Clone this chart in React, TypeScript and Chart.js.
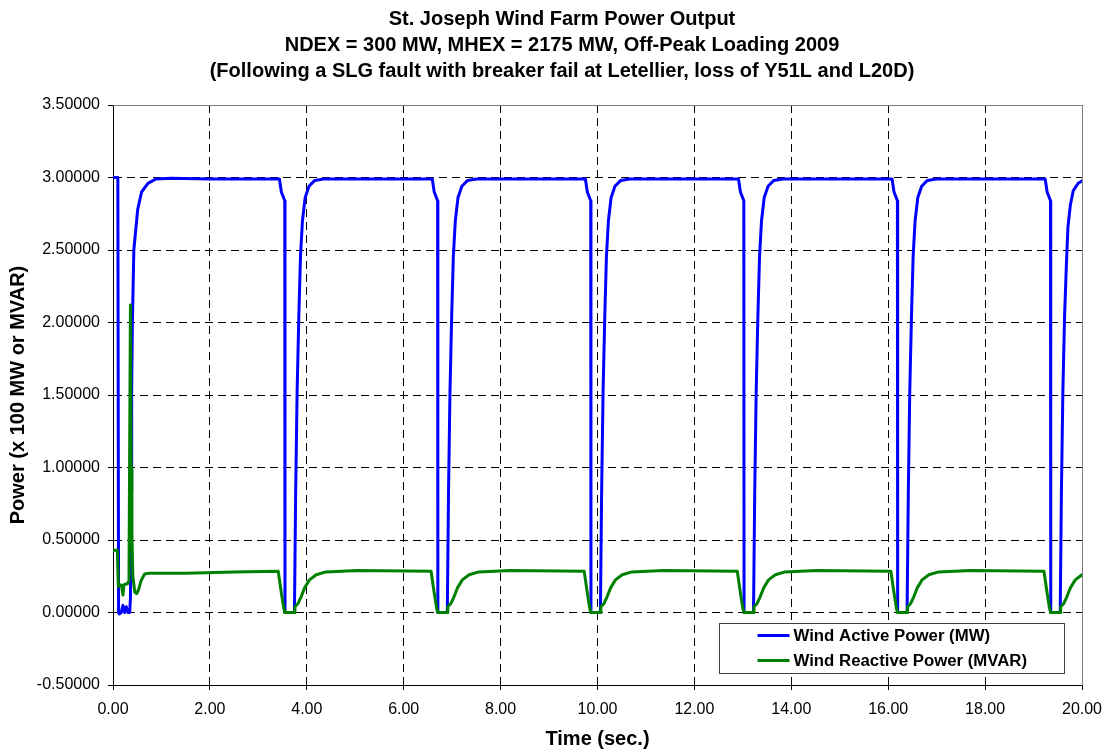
import React, { useEffect, useRef } from 'react';
import { Chart, registerables } from 'chart.js';

Chart.register(...registerables);

const FONT = '"Liberation Sans", Arial, Helvetica, sans-serif';

const titleLines = [
  'St. Joseph Wind Farm Power Output',
  'NDEX = 300 MW, MHEX = 2175 MW, Off-Peak Loading 2009',
  '(Following a SLG fault with breaker fail at Letellier, loss of Y51L and L20D)',
];
const xAxisTitle = 'Time (sec.)';
const yAxisTitle = 'Power (x 100 MW or MVAR)';
const seriesLabels = ['Wind Active Power (MW)', 'Wind Reactive Power (MVAR)'];
const seriesColors = ['#0000FF', '#008000'];

// Wind active power (x 100 MW)
const activeTime = [
  0, 0.10, 0.115, 0.13, 0.17, 0.205, 0.24, 0.275, 0.31, 0.345, 0.36, 0.375, 0.385, 0.40, 0.43, 0.51, 0.59, 0.72, 0.89, 1.20, 2.00, 3.00,
  3.435, 3.475, 3.545, 3.55, 3.745, 3.77, 3.80, 3.835, 3.87, 3.91, 3.965, 4.045, 4.165, 4.345, 5.40,
  6.59, 6.63, 6.70, 6.705, 6.90, 6.925, 6.955, 6.99, 7.025, 7.065, 7.12, 7.20, 7.32, 7.50, 8.60,
  9.75, 9.79, 9.86, 9.865, 10.06, 10.085, 10.115, 10.15, 10.185, 10.225, 10.28, 10.36, 10.48, 10.66, 11.80,
  12.91, 12.95, 13.02, 13.025, 13.22, 13.245, 13.275, 13.31, 13.345, 13.385, 13.44, 13.52, 13.64, 13.82, 14.90,
  16.08, 16.12, 16.19, 16.195, 16.39, 16.415, 16.445, 16.48, 16.515, 16.555, 16.61, 16.69, 16.81, 16.99, 18.10,
  19.24, 19.28, 19.35, 19.355, 19.55, 19.575, 19.605, 19.64, 19.68, 19.71, 19.76, 19.82, 19.92, 20.0,
];
const activePower = [
  3.0, 3.0, 0.0, -0.01, 0.0, 0.05, 0.0, 0.04, 0.0, 0.0, 0.10, 0.83, 1.52, 2.00, 2.50, 2.78, 2.90, 2.96, 2.99, 2.995, 2.99, 2.99,
  2.99, 2.90, 2.84, 0.0, 0.0, 0.83, 1.52, 2.04, 2.46, 2.70, 2.86, 2.94, 2.98, 2.99, 2.99,
  2.99, 2.90, 2.84, 0.0, 0.0, 0.83, 1.52, 2.04, 2.46, 2.70, 2.86, 2.94, 2.98, 2.99, 2.99,
  2.99, 2.90, 2.84, 0.0, 0.0, 0.83, 1.52, 2.04, 2.46, 2.70, 2.86, 2.94, 2.98, 2.99, 2.99,
  2.99, 2.90, 2.84, 0.0, 0.0, 0.83, 1.52, 2.04, 2.46, 2.70, 2.86, 2.94, 2.98, 2.99, 2.99,
  2.99, 2.90, 2.84, 0.0, 0.0, 0.83, 1.52, 2.04, 2.46, 2.70, 2.86, 2.94, 2.98, 2.99, 2.99,
  2.99, 2.90, 2.84, 0.0, 0.0, 0.83, 1.52, 2.04, 2.42, 2.66, 2.81, 2.91, 2.96, 2.975,
];

// Wind reactive power (x 100 MVAR)
const reactiveTime = [
  0, 0.09, 0.11, 0.14, 0.175, 0.205, 0.225, 0.30, 0.33, 0.345, 0.36, 0.375, 0.39, 0.41, 0.45, 0.49, 0.53, 0.58, 0.65, 0.75, 1.50, 2.50,
  3.41, 3.475, 3.525, 3.545, 3.745, 3.755, 3.815, 3.885, 3.955, 4.055, 4.195, 4.395, 5.045,
  6.565, 6.63, 6.68, 6.70, 6.90, 6.91, 6.97, 7.04, 7.11, 7.21, 7.35, 7.55, 8.20,
  9.725, 9.79, 9.84, 9.86, 10.06, 10.07, 10.13, 10.20, 10.27, 10.37, 10.51, 10.71, 11.36,
  12.885, 12.95, 13.00, 13.02, 13.22, 13.23, 13.29, 13.36, 13.43, 13.53, 13.67, 13.87, 14.52,
  16.055, 16.12, 16.17, 16.19, 16.39, 16.40, 16.46, 16.53, 16.60, 16.70, 16.84, 17.04, 17.69,
  19.215, 19.28, 19.33, 19.35, 19.55, 19.56, 19.62, 19.69, 19.76, 19.86, 20.0,
];
const reactivePower = [
  0.43, 0.43, 0.18, 0.19, 0.19, 0.12, 0.19, 0.20, 0.22, 1.20, 2.12, 1.00, 0.55, 0.25, 0.14, 0.13, 0.16, 0.22, 0.265, 0.27, 0.27, 0.28,
  0.285, 0.135, 0.03, 0.0, 0.0, 0.04, 0.06, 0.11, 0.17, 0.225, 0.26, 0.28, 0.29,
  0.285, 0.135, 0.03, 0.0, 0.0, 0.04, 0.06, 0.11, 0.17, 0.225, 0.26, 0.28, 0.29,
  0.285, 0.135, 0.03, 0.0, 0.0, 0.04, 0.06, 0.11, 0.17, 0.225, 0.26, 0.28, 0.29,
  0.285, 0.135, 0.03, 0.0, 0.0, 0.04, 0.06, 0.11, 0.17, 0.225, 0.26, 0.28, 0.29,
  0.285, 0.135, 0.03, 0.0, 0.0, 0.04, 0.06, 0.11, 0.17, 0.225, 0.26, 0.28, 0.29,
  0.285, 0.135, 0.03, 0.0, 0.0, 0.04, 0.06, 0.11, 0.17, 0.225, 0.26,
];

const X_MIN = 0;
const X_MAX = 20;
const X_STEP = 2;
const Y_MIN = -0.5;
const Y_MAX = 3.5;
const Y_STEP = 0.5;

const titleAndFrame = {
  id: 'titleAndFrame',
  afterDraw(chart: any) {
    const { ctx } = chart;
    ctx.save();
    ctx.fillStyle = '#000';
    ctx.font = `bold 20px ${FONT}`;
    ctx.textAlign = 'center';
    ctx.textBaseline = 'middle';
    titleLines.forEach((line, i) => {
      ctx.fillText(line, 562, 19 + i * 26);
    });
    ctx.restore();
  },
  beforeDatasetsDraw(chart: any) {
    const { ctx, chartArea } = chart;
    ctx.save();
    ctx.strokeStyle = '#808080';
    ctx.lineWidth = 1;
    ctx.setLineDash([]);
    ctx.beginPath();
    const l = Math.round(chartArea.left) + 0.5;
    const t = Math.round(chartArea.top) + 0.5;
    const r = Math.round(chartArea.right) + 0.5;
    const b = Math.round(chartArea.bottom) + 0.5;
    ctx.moveTo(l, t);
    ctx.lineTo(r, t);
    ctx.lineTo(r, b);
    ctx.stroke();
    ctx.restore();
  },
  afterDatasetsDraw(chart: any) {
    const { ctx, chartArea } = chart;
    const boxW = 345;
    const boxH = 50;
    const bx = Math.round(chartArea.right - 18 - boxW) + 0.5;
    const by = Math.round(chartArea.bottom - 12 - boxH) + 0.5;
    ctx.save();
    ctx.fillStyle = '#ffffff';
    ctx.fillRect(bx, by, boxW, boxH);
    ctx.strokeStyle = '#404040';
    ctx.lineWidth = 1;
    ctx.setLineDash([]);
    ctx.strokeRect(bx, by, boxW, boxH);
    ctx.font = `bold 16.8px ${FONT}`;
    ctx.textBaseline = 'middle';
    ctx.textAlign = 'left';
    chart.data.datasets.forEach((ds: any, i: number) => {
      const cy = by + 12 + i * 25;
      ctx.strokeStyle = ds.borderColor;
      ctx.lineWidth = 3;
      ctx.beginPath();
      ctx.moveTo(bx + 38, cy);
      ctx.lineTo(bx + 70, cy);
      ctx.stroke();
      ctx.fillStyle = '#000';
      ctx.fillText(ds.label, bx + 74, cy + 1);
    });
    ctx.restore();
  },
};

export default function App() {
  const ref = useRef<HTMLCanvasElement | null>(null);

  useEffect(() => {
    if (!ref.current) return;
    const chart = new Chart(ref.current, {
      type: 'line',
      data: {
        datasets: [
          {
            label: seriesLabels[0],
            data: activeTime.map((t, i) => ({ x: t, y: activePower[i] })),
            borderColor: seriesColors[0],
            backgroundColor: seriesColors[0],
            borderWidth: 3,
            pointRadius: 0,
            tension: 0,
            fill: false,
            order: 1,
            borderJoinStyle: 'round',
            borderCapStyle: 'round',
          },
          {
            label: seriesLabels[1],
            data: reactiveTime.map((t, i) => ({ x: t, y: reactivePower[i] })),
            borderColor: seriesColors[1],
            backgroundColor: seriesColors[1],
            borderWidth: 3,
            pointRadius: 0,
            tension: 0,
            fill: false,
            order: 0,
            borderJoinStyle: 'round',
            borderCapStyle: 'round',
          },
        ],
      },
      options: {
        responsive: false,
        animation: false,
        events: [],
        layout: { padding: { left: 0, right: 0, top: 105, bottom: 0 } },
        plugins: {
          legend: { display: false },
          tooltip: { enabled: false },
          title: { display: false },
        },
        scales: {
          x: {
            type: 'linear',
            min: X_MIN,
            max: X_MAX,
            ticks: {
              stepSize: X_STEP,
              autoSkip: false,
              maxRotation: 0,
              color: '#000',
              padding: 10,
              font: { family: FONT, size: 16 },
              callback: (v: any) => Number(v).toFixed(2),
            },
            grid: {
              color: '#000',
              lineWidth: 1,
              tickLength: 5,
              tickColor: '#000',
              tickBorderDash: [],
            },
            border: { display: true, color: '#000', width: 1, dash: [8, 5] },
            title: {
              display: true,
              text: xAxisTitle,
              color: '#000',
              font: { family: FONT, size: 20, weight: 'bold', lineHeight: 1 },
              padding: { top: 0, bottom: 0 },
            },
            afterFit: (s: any) => {
              s.height = 64;
              s.paddingRight = 24;
            },
          },
          y: {
            type: 'linear',
            min: Y_MIN,
            max: Y_MAX,
            ticks: {
              stepSize: Y_STEP,
              autoSkip: false,
              color: '#000',
              padding: 8,
              font: { family: FONT, size: 16 },
              callback: (v: any) => Number(v).toFixed(5),
            },
            grid: {
              color: '#000',
              lineWidth: 1,
              tickLength: 5,
              tickColor: '#000',
              tickBorderDash: [],
            },
            border: { display: true, color: '#000', width: 1, dash: [8, 5] },
            title: {
              display: true,
              text: yAxisTitle,
              color: '#000',
              font: { family: FONT, size: 20, weight: 'bold', lineHeight: 1.2 },
              padding: { top: 6.3, bottom: 0 },
            },
            afterFit: (s: any) => {
              s.width = 113;
            },
          },
        },
      },
      plugins: [titleAndFrame],
    } as any);
    return () => chart.destroy();
  }, []);

  return (
    <div style={{ position: 'absolute', left: 0, top: 0, width: 1106, height: 749, background: '#fff' }}>
      <canvas ref={ref} width={1106} height={749} style={{ display: 'block', width: 1106, height: 749 }} />
    </div>
  );
}
